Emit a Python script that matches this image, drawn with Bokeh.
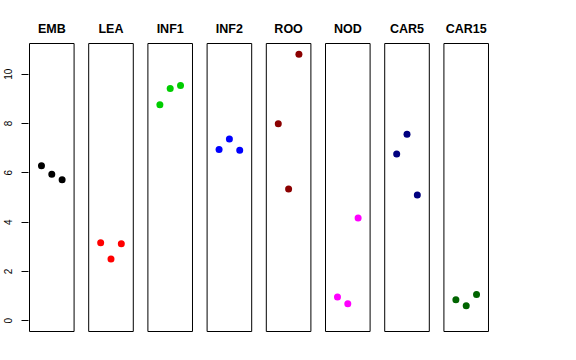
from bokeh.plotting import figure
from bokeh.models import FixedTicker, Range1d, ColumnDataSource
from bokeh.embed import file_html
from bokeh.resources import INLINE

# ---- data ----
panels = ["EMB", "LEA", "INF1", "INF2", "ROO", "NOD", "CAR5", "CAR15"]
colors = ["#000000", "#FF0000", "#00CD00", "#0000FF", "#8B0000", "#FF00FF", "#000080", "#006400"]
emb = [6.29, 5.94, 5.72]
lea = [3.17, 2.51, 3.12]
inf1 = [8.76, 9.42, 9.54]
inf2 = [6.95, 7.37, 6.92]
roo = [7.99, 5.34, 10.81]
nod = [0.97, 0.69, 4.17]
car5 = [6.76, 7.56, 5.10]
car15 = [0.85, 0.61, 1.07]
series = [emb, lea, inf1, inf2, roo, nod, car5, car15]
y_ticks = [0, 2, 4, 6, 8, 10]

# ---- layout constants ----
PX_PER_PANEL = 59.2          # pixels between panel centres
POINT_STEP = 10.31 / 59.14   # spacing of replicate points in panel units
HALF_W = 2.16 * POINT_STEP   # half width of each panel box (xlim 0..4 + 4%)
FRAME_W, FRAME_H = 461, 290
LEFT, TOP = 28, 42
W, H = 560, 344

ymax = max(max(s) for s in series)
pad = 0.04 * ymax
y0, y1 = -pad, ymax + pad
ypx = (y1 - y0) / (FRAME_H - 2)
xpx = 1.0 / PX_PER_PANEL

p = figure(width=W, height=H, output_backend="svg", toolbar_location=None,
           x_axis_location="above",
           x_range=Range1d(-HALF_W - xpx, len(panels) - 1 + HALF_W + xpx),
           y_range=Range1d(y0 - ypx, y1 + ypx),
           min_border_left=LEFT, min_border_top=TOP,
           min_border_right=W - LEFT - FRAME_W, min_border_bottom=H - TOP - FRAME_H)
p.outline_line_color = None
p.grid.visible = False
p.background_fill_color = "white"
p.border_fill_color = "white"

# panel boxes
idx = list(range(len(panels)))
p.quad(left=[i - HALF_W for i in idx], right=[i + HALF_W for i in idx],
       bottom=[y0] * len(idx), top=[y1] * len(idx),
       fill_color=None, line_color="black", line_width=1)

# points
xs, ys, cs = [], [], []
for i, (vals, c) in enumerate(zip(series, colors)):
    for j, v in enumerate(vals):
        xs.append(i + (j - 1) * POINT_STEP)
        ys.append(v)
        cs.append(c)
src = ColumnDataSource(dict(x=xs, y=ys, c=cs))
p.scatter("x", "y", source=src, size=7, fill_color="c", line_color=None)

# top axis -> panel titles
xa = p.xaxis[0]
xa.ticker = FixedTicker(ticks=idx)
xa.major_label_overrides = {i: name for i, name in zip(idx, panels)}
xa.axis_line_color = None
xa.major_tick_line_color = None
xa.minor_tick_line_color = None
xa.major_label_text_font = "Liberation Sans"
xa.major_label_text_font_style = "bold"
xa.major_label_text_font_size = "12.5px"
xa.major_label_text_color = "black"
xa.major_label_standoff = 1

# y axis
ya = p.yaxis[0]
ya.ticker = FixedTicker(ticks=y_ticks)
ya.axis_line_color = None
ya.major_tick_out = 7
ya.major_tick_in = 0
ya.major_tick_line_color = "black"
ya.minor_tick_line_color = None
ya.major_label_orientation = "vertical"
ya.major_label_text_font = "Liberation Sans"
ya.major_label_text_font_size = "10px"
ya.major_label_text_color = "black"
ya.major_label_standoff = 9

open("out.html", "w").write(file_html(p, INLINE))
